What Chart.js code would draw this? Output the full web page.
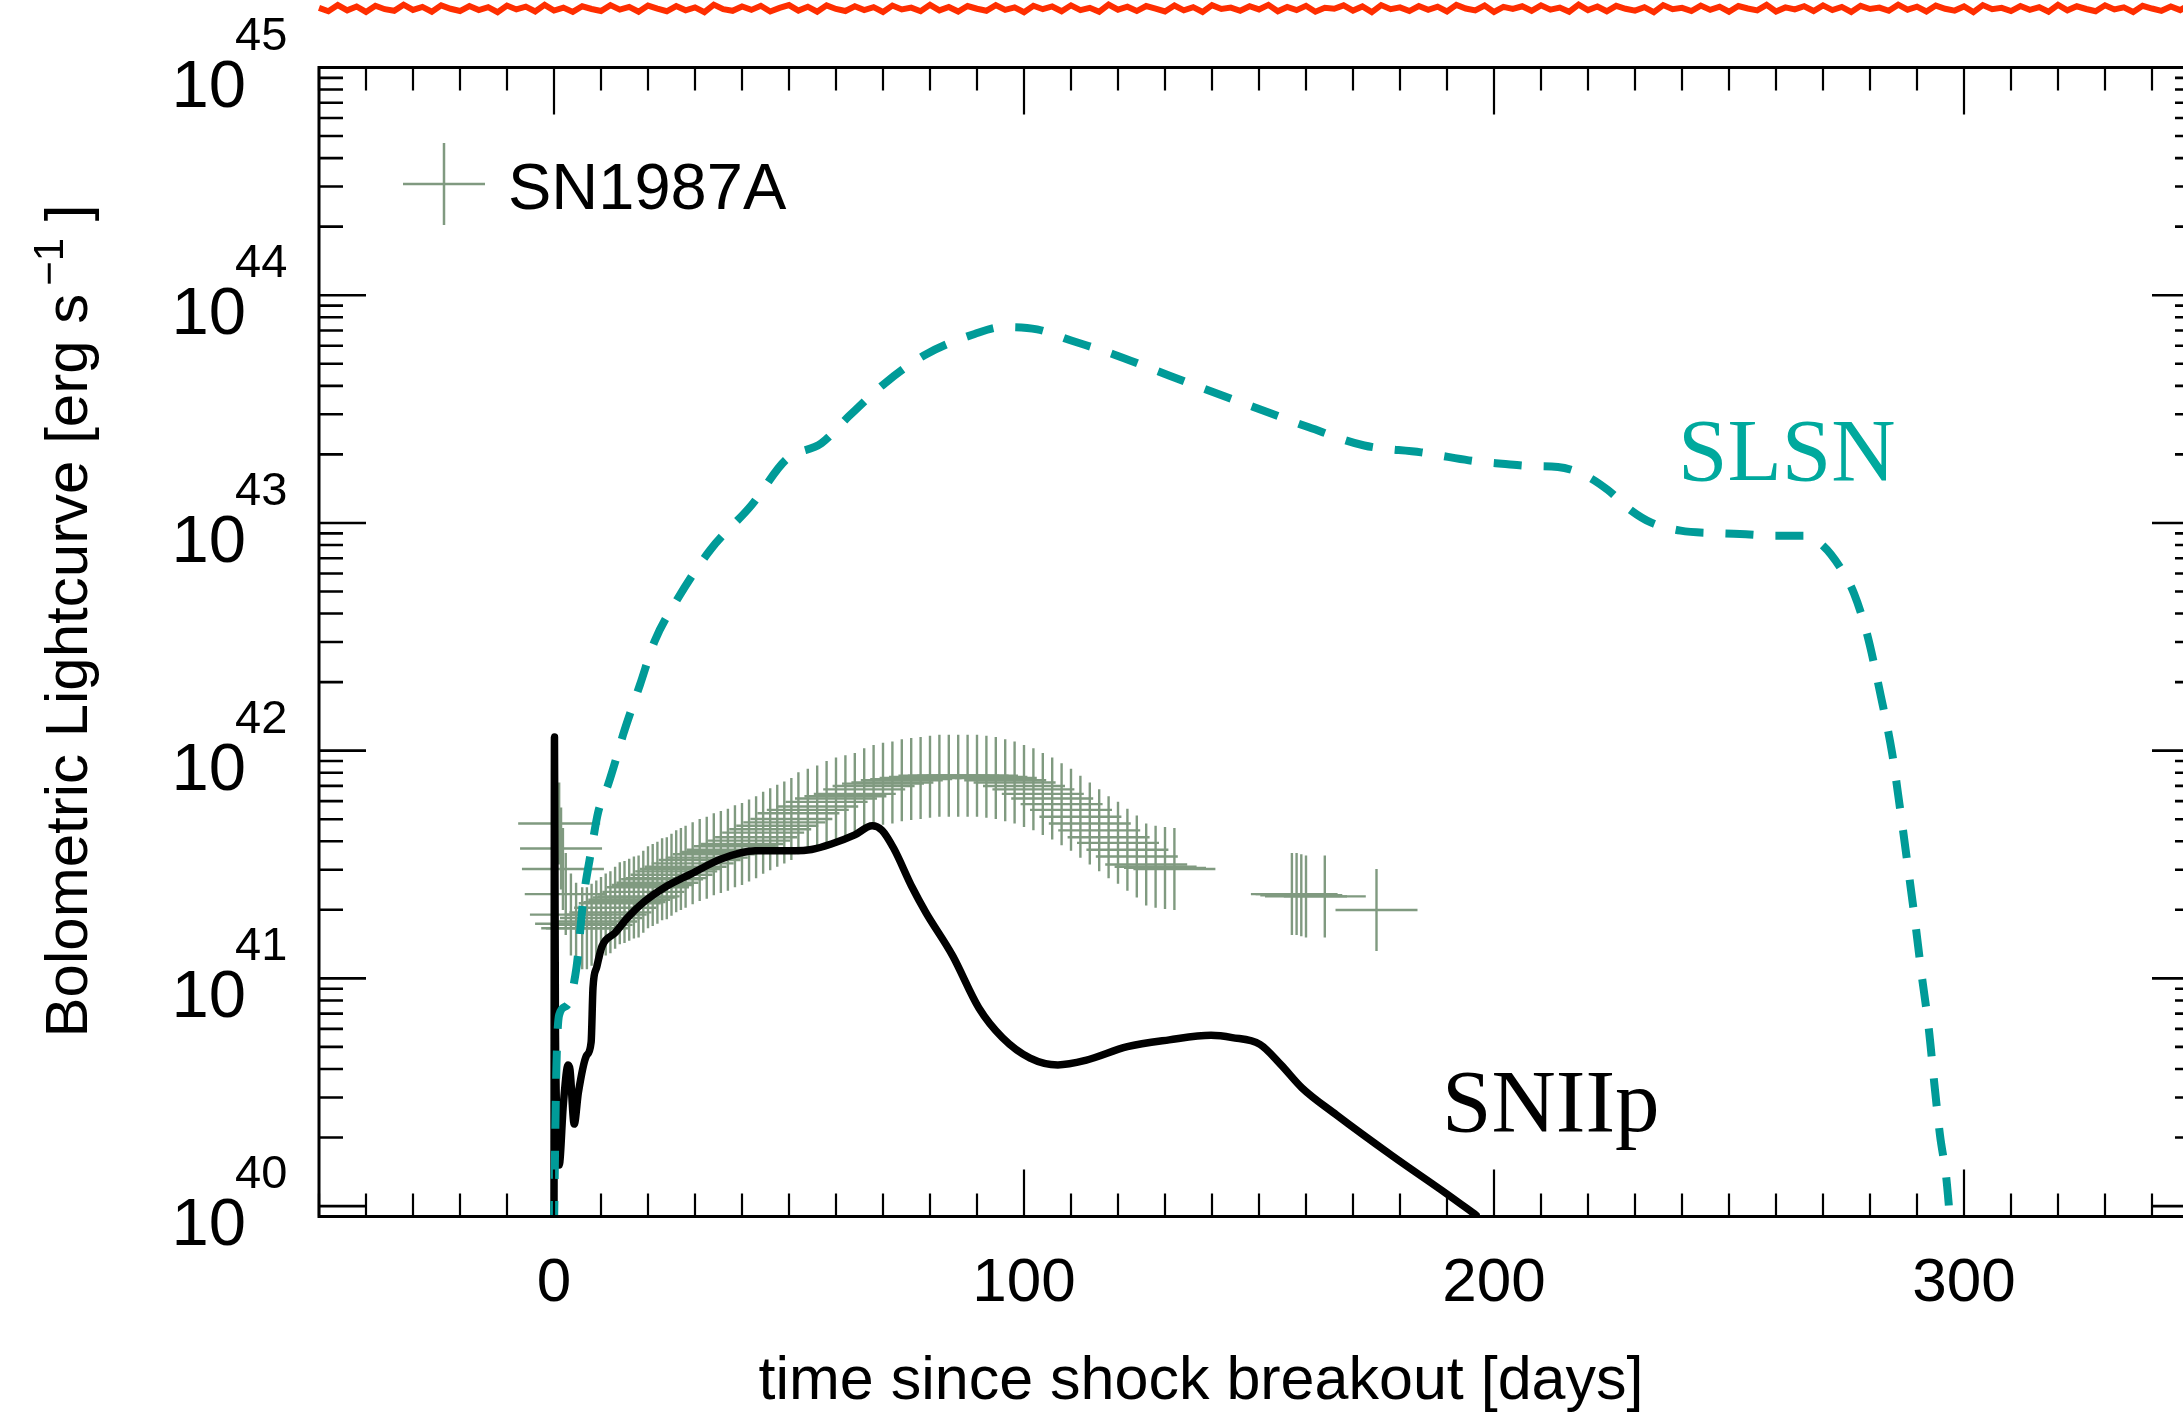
<!DOCTYPE html>
<html><head><meta charset="utf-8">
<script src="https://cdn.jsdelivr.net/npm/chart.js@4/dist/chart.umd.min.js"></script>
<style>
html,body{margin:0;padding:0;background:#fff;overflow:hidden;width:2183px;height:1416px}
canvas{position:absolute;left:0;top:0}
</style></head>
<body><canvas id="c" width="2210" height="1416" style="width:2210px;height:1416px"></canvas>
<script>
// ---------------- data (days since shock breakout, log10 L [erg/s]) ----------------
const xRange = [-50, 350];
const yRange = [9e39, 1e45];
const xTickValues = [0, 100, 200, 300];
const xTickLabels = ['0', '100', '200', '300'];
const yTickExponents = [40, 41, 42, 43, 44, 45];

const sniipDays = [0, 0.1, 0.3, 0.8, 1.1, 2.0, 3.0, 3.4, 4.3, 5.2, 6.9, 7.9, 8.3, 9.1, 10.2, 13, 15.8, 19.4, 23.6, 29.3, 35.7, 42.8, 51.3, 54.8, 59, 64, 67.7, 69.8, 72.3, 76.2, 79.1, 84.8, 90.4, 95.4, 101.3, 107.2, 113.1, 122, 130.9, 139.8, 144.3, 150.2, 154.7, 159.1, 166.5, 178.4, 190.2, 196.2];
const sniipLogL = [39.9, 42.06, 40.8, 40.3, 40.18, 40.45, 40.62, 40.6, 40.36, 40.5, 40.66, 40.72, 40.96, 41.05, 41.14, 41.2, 41.27, 41.34, 41.40, 41.46, 41.525, 41.56, 41.56, 41.566, 41.59, 41.63, 41.67, 41.65, 41.57, 41.40, 41.29, 41.10, 40.87, 40.74, 40.65, 40.62, 40.64, 40.70, 40.73, 40.75, 40.74, 40.71, 40.62, 40.52, 40.40, 40.22, 40.05, 39.96];

const slsnDays = [0, 0.5, 1.1, 2.7, 4.8, 6.2, 8, 9.4, 11.5, 13.3, 14.7, 16.8, 18.3, 21.4, 25.8, 33.2, 42.1, 49.5, 56.9, 62.8, 70.2, 79.1, 89.5, 95.4, 102.8, 110.2, 119.1, 128, 136.9, 148.7, 160.6, 172.4, 184.5, 190.2, 196.4, 201.7, 207.9, 213.6, 219.3, 224.2, 229.1, 233.6, 239.7, 247.4, 253.6, 259.4, 265.9, 270, 274.1, 276.6, 279.4, 282.3, 284.7, 286.4, 288, 289.6, 290.9, 292.5, 293.7, 294.9, 296.2, 297];
const slsnLogL = [39.9, 40.6, 40.84, 40.88, 41.05, 41.34, 41.57, 41.73, 41.85, 41.97, 42.07, 42.2, 42.29, 42.48, 42.65, 42.88, 43.08, 43.28, 43.35, 43.47, 43.61, 43.74, 43.83, 43.86, 43.85, 43.80, 43.74, 43.67, 43.60, 43.51, 43.42, 43.34, 43.31, 43.29, 43.27, 43.26, 43.25, 43.246, 43.21, 43.145, 43.056, 43.0, 42.966, 42.955, 42.95, 42.944, 42.944, 42.90, 42.79, 42.69, 42.51, 42.24, 41.99, 41.745, 41.50, 41.25, 41.03, 40.78, 40.535, 40.31, 40.13, 39.95];

const sn1987aDays = [1.1, 1.5, 1.9, 2.5, 3.6, 4.7, 6, 7, 8, 9, 10, 11, 12, 13, 14, 15, 16, 17, 18, 19, 20, 21, 22, 23, 24, 25, 26, 27, 28, 29.5, 31, 32.5, 34, 35.5, 37, 38.5, 40, 41.5, 43, 44.5, 46, 47.5, 49, 50.5, 52, 54, 56, 58, 60, 62, 64, 66, 68, 70, 72, 74, 76, 78, 80, 82, 84, 86, 88, 90, 92, 94, 96, 98, 100, 102, 104, 106, 108, 110, 112, 114, 116, 118, 120, 122, 124, 126, 128, 130, 132, 157, 158, 159, 160, 164, 175];
const sn1987aLogL = [41.68, 41.57, 41.48, 41.37, 41.28, 41.24, 41.22, 41.22, 41.235, 41.25, 41.265, 41.28, 41.29, 41.31, 41.33, 41.335, 41.345, 41.355, 41.36, 41.38, 41.40, 41.41, 41.42, 41.435, 41.44, 41.455, 41.47, 41.48, 41.49, 41.505, 41.52, 41.53, 41.545, 41.555, 41.565, 41.58, 41.59, 41.605, 41.62, 41.64, 41.655, 41.67, 41.685, 41.70, 41.725, 41.74, 41.755, 41.775, 41.79, 41.80, 41.81, 41.83, 41.845, 41.855, 41.86, 41.87, 41.875, 41.88, 41.885, 41.89, 41.89, 41.89, 41.89, 41.89, 41.885, 41.88, 41.87, 41.86, 41.845, 41.83, 41.81, 41.79, 41.765, 41.74, 41.71, 41.68, 41.65, 41.62, 41.595, 41.565, 41.535, 41.50, 41.49, 41.485, 41.48, 41.37, 41.37, 41.365, 41.36, 41.36, 41.30];

// noisy red trace running above the frame (one value every 2 days from day -50)
const redStartDay = -50, redStepDays = 2;
const redLogL = [
45.262, 45.247, 45.274, 45.251, 45.268, 45.244, 45.271, 45.256, 45.249, 45.276,
45.253, 45.266, 45.245, 45.273, 45.258, 45.248, 45.270, 45.252, 45.265, 45.243,
45.272, 45.255, 45.267, 45.246, 45.275, 45.250, 45.263, 45.244, 45.269, 45.257,
45.248, 45.274, 45.254, 45.266, 45.245, 45.272, 45.259, 45.247, 45.270, 45.251,
45.264, 45.243, 45.276, 45.256, 45.249, 45.268, 45.253, 45.271, 45.246, 45.262,
45.274, 45.250, 45.267, 45.245, 45.273, 45.257, 45.248, 45.269, 45.252, 45.265,
45.244, 45.272, 45.255, 45.263, 45.247, 45.275, 45.251, 45.266, 45.246, 45.270,
45.258, 45.249, 45.274, 45.253, 45.264, 45.243, 45.271, 45.256, 45.268, 45.247,
45.273, 45.252, 45.262, 45.245, 45.276, 45.254, 45.267, 45.248, 45.270, 45.259,
45.246, 45.272, 45.251, 45.265, 45.244, 45.274, 45.257, 45.263, 45.249, 45.269,
45.255, 45.275, 45.247, 45.266, 45.252, 45.271, 45.245, 45.262, 45.258, 45.273,
45.250, 45.268, 45.243, 45.274, 45.256, 45.264, 45.248, 45.270, 45.253, 45.267,
45.246, 45.275, 45.259, 45.251, 45.272, 45.244, 45.266, 45.257, 45.269, 45.249,
45.273, 45.254, 45.263, 45.245, 45.276, 45.252, 45.268, 45.247, 45.271, 45.258,
45.250, 45.265, 45.243, 45.274, 45.256, 45.262, 45.248, 45.272, 45.253, 45.267,
45.245, 45.270, 45.259, 45.251, 45.275, 45.246, 45.264, 45.255, 45.269, 45.248,
45.273, 45.252, 45.266, 45.244, 45.271, 45.257, 45.263, 45.249, 45.276, 45.254,
45.267, 45.246, 45.272, 45.258, 45.250, 45.268, 45.243, 45.274, 45.256, 45.262,
45.248, 45.270, 45.253, 45.265, 45.245, 45.275, 45.251, 45.269, 45.257, 45.247,
45.273, 45.255, 45.264, 45.244, 45.271, 45.259, 45.249, 45.268, 45.252, 45.276,
45.258];

// ---------------- build tables ----------------
const toPts = (xs, ls) => xs.map((x, i) => ({x: x, y: Math.pow(10, ls[i])}));
const redPts = redLogL.map((l, i) => ({x: redStartDay + i * redStepDays, y: Math.pow(10, l)}));

const TEAL = '#009b98', TEAL_TXT = '#00a99d', GRAY = '#809a80', RED = '#ff2e00';
const SANS = '"Liberation Sans", Arial, Helvetica, sans-serif';
const SERIF = '"Liberation Serif", "Times New Roman", serif';

const idlAxes = {
  id: 'idlAxes',
  afterDraw(chart) {
    const ctx = chart.ctx, xs = chart.scales.x, ys = chart.scales.y;
    const L = xs.getPixelForValue(xRange[0]), R = xs.getPixelForValue(xRange[1]);
    const T = ys.getPixelForValue(yRange[1]), B = ys.getPixelForValue(yRange[0]);
    ctx.save();
    ctx.strokeStyle = '#000'; ctx.fillStyle = '#000';
    // frame
    ctx.lineWidth = 3;
    ctx.strokeRect(L, T, R - L, B - T);
    // x ticks (minor every 10 d, major every 100 d)
    ctx.lineWidth = 2.2;
    for (let d = xRange[0]; d <= xRange[1]; d += 10) {
      const px = xs.getPixelForValue(d);
      const len = (d % 100 === 0) ? 47 : 23;
      ctx.beginPath();
      ctx.moveTo(px, B); ctx.lineTo(px, B - len);
      ctx.moveTo(px, T); ctx.lineTo(px, T + len);
      ctx.stroke();
    }
    // y ticks (log)
    ctx.lineWidth = 2.6;
    for (let e = 39; e <= 45; e++) {
      for (let m = 1; m <= 9; m++) {
        const v = m * Math.pow(10, e);
        if (v < yRange[0] * 0.999 || v > yRange[1] * 1.001) continue;
        const py = ys.getPixelForValue(v);
        const len = (m === 1) ? 47 : 24;
        ctx.beginPath();
        ctx.moveTo(L, py); ctx.lineTo(L + len, py);
        ctx.moveTo(R, py); ctx.lineTo(R - len, py);
        ctx.stroke();
      }
    }
    // x tick labels
    ctx.font = '62px ' + SANS; ctx.textAlign = 'center'; ctx.textBaseline = 'alphabetic';
    xTickValues.forEach((v, i) => ctx.fillText(xTickLabels[i], xs.getPixelForValue(v), 1301));
    // y tick labels 10^n
    yTickExponents.forEach(e => {
      const py = ys.getPixelForValue(Math.pow(10, e));
      ctx.font = '67px ' + SANS; ctx.textAlign = 'right';
      ctx.fillText('10', 246, py + 39);
      ctx.font = '47px ' + SANS; ctx.textAlign = 'left';
      ctx.fillText(String(e), 235, py - 18);
    });
    // x title
    ctx.font = '61px ' + SANS; ctx.textAlign = 'center';
    ctx.fillText('time since shock breakout [days]', 1201, 1399);
    // y title (rotated, with superscript)
    ctx.save();
    ctx.translate(87, 621); ctx.rotate(-Math.PI / 2);
    const big = '60px ' + SANS, small = '42px ' + SANS;
    const p1 = 'Bolometric Lightcurve [erg s', p2 = '\u22121', p3 = ' ]';
    ctx.font = big; const w1 = ctx.measureText(p1).width, w3 = ctx.measureText(p3).width;
    ctx.font = small; const w2 = ctx.measureText(p2).width;
    const gap = 8, tot = w1 + gap + w2 + w3;
    const x0 = -tot / 2;
    ctx.textAlign = 'left';
    ctx.font = big; ctx.fillText(p1, x0, 0);
    ctx.font = small; ctx.fillText(p2, x0 + w1 + gap, -24);
    ctx.font = big; ctx.fillText(p3, x0 + w1 + gap + w2, 0);
    ctx.restore();
    // legend
    ctx.strokeStyle = GRAY; ctx.lineWidth = 2.5;
    ctx.beginPath();
    ctx.moveTo(403, 184); ctx.lineTo(485, 184);
    ctx.moveTo(444, 143); ctx.lineTo(444, 225);
    ctx.stroke();
    ctx.fillStyle = '#000'; ctx.font = '65px ' + SANS; ctx.textAlign = 'left';
    ctx.fillText('SN1987A', 508, 209);
    // curve labels
    ctx.font = '89px ' + SERIF;
    ctx.fillStyle = TEAL_TXT; ctx.fillText('SLSN', 1678, 480);
    ctx.fillStyle = '#000'; ctx.fillText('SNIIp', 1442, 1131);
    ctx.restore();
  }
};

new Chart(document.getElementById('c'), {
  type: 'scatter',
  data: {
    datasets: [
      {label: 'SLSN', data: toPts(slsnDays, slsnLogL), showLine: true, borderColor: TEAL, borderWidth: 8,
       borderDash: [28, 22], borderCapStyle: 'butt', pointRadius: 0, cubicInterpolationMode: 'monotone', order: 0},
      {label: 'SNIIp', data: toPts(sniipDays, sniipLogL), showLine: true, borderColor: '#000', borderWidth: 7.5,
       borderJoinStyle: 'round', borderCapStyle: 'round', pointRadius: 0, cubicInterpolationMode: 'monotone', order: 1},
      {label: 'SN1987A', data: toPts(sn1987aDays, sn1987aLogL), showLine: false, pointStyle: 'cross',
       pointRadius: 41, pointBorderWidth: 2.4, pointBorderColor: GRAY, borderColor: GRAY, backgroundColor: GRAY, order: 2},
      {label: 'red', data: redPts, showLine: true, borderColor: RED, borderWidth: 6, pointRadius: 0,
       clip: false, order: 3}
    ]
  },
  options: {
    responsive: false, animation: false, devicePixelRatio: 1,
    layout: {autoPadding: false, padding: {left: 319, right: 11, top: 67.5, bottom: 199.5}},
    plugins: {legend: {display: false}, tooltip: {enabled: false}},
    scales: {
      x: {type: 'linear', min: xRange[0], max: xRange[1], display: false},
      y: {type: 'logarithmic', min: yRange[0], max: yRange[1], display: false}
    }
  },
  plugins: [idlAxes]
});
</script>
</body></html>
